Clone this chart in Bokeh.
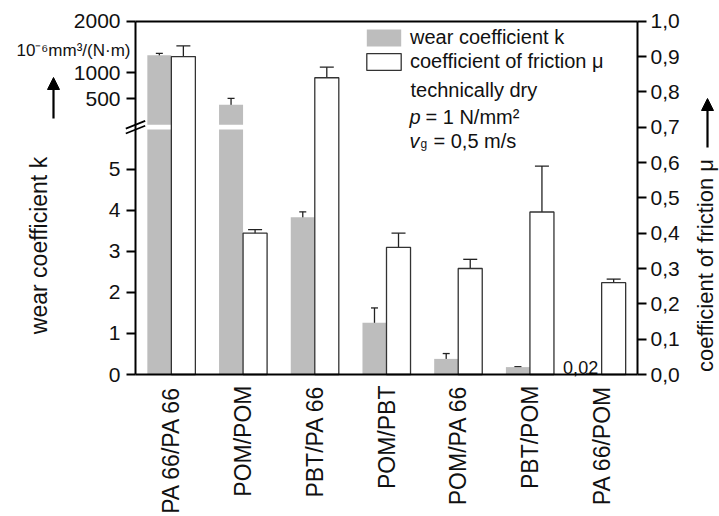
import math
from bokeh.plotting import figure
from bokeh.models import (Range1d, LinearAxis, FixedTicker, Whisker, ColumnDataSource,
                          TeeHead, Label, Arrow, NormalHead, Legend, LegendItem)
from bokeh.embed import file_html
from bokeh.resources import INLINE
from bokeh.core.properties import value

# ---------------- data ----------------
categories = ["PA 66/PA 66", "POM/POM", "PBT/PA 66", "POM/PBT", "POM/PA 66", "PBT/POM", "PA 66/POM"]
wear_k = [1340, 385, 3.83, 1.26, 0.38, 0.18, 0.02]
wear_k_err = [40, 125, 0.13, 0.36, 0.13, 0.01, 0.005]
friction_mu = [0.90, 0.40, 0.84, 0.36, 0.30, 0.46, 0.26]
friction_mu_err = [0.03, 0.01, 0.03, 0.04, 0.026, 0.13, 0.01]
k_ticks_lower = [0, 1, 2, 3, 4, 5]
k_ticks_upper = [500, 1000, 2000]
mu_ticks = [0.0, 0.1, 0.2, 0.3, 0.4, 0.5, 0.6, 0.7, 0.8, 0.9, 1.0]
mu_tick_labels = ["0,0", "0,1", "0,2", "0,3", "0,4", "0,5", "0,6", "0,7", "0,8", "0,9", "1,0"]
annotated_value = 0.02

# ---------------- broken k-axis (mapped onto the mu axis 0..1) ----------------
K_LOW_SCALE = 0.1163      # axis units per k unit, lower segment
K_BREAK = 5.96            # top of lower segment (k)
BREAK_LOW = K_BREAK * K_LOW_SCALE
BREAK_HIGH = 0.707        # bottom of upper segment (axis units)
K_UP_SCALE = 0.0001465    # axis units per k unit, upper segment


def k_to_axis(k):
    if k <= K_BREAK:
        return k * K_LOW_SCALE
    return BREAK_HIGH + k * K_UP_SCALE


FONT = "Liberation Sans"
TXT = "#111111"
GRAY = "#bdbdbd"
EDGE = "#333333"
BW = 0.335

# ---------------- layout: frame = whole canvas, axes at fixed locations ----------------
W, H = 719, 516
PLOT_LEFT, PLOT_RIGHT, PLOT_TOP, PLOT_BOTTOM = 135.0, 637.0, 20.7, 374.0
X0, X1 = -0.5, len(categories) - 0.5
Y0, Y1 = 0.0, 1.0
PX_X = (PLOT_RIGHT - PLOT_LEFT) / (X1 - X0)
PX_Y = (PLOT_BOTTOM - PLOT_TOP) / (Y1 - Y0)
x_range = Range1d(X0 - PLOT_LEFT / PX_X, X1 + (W - PLOT_RIGHT) / PX_X)
y_range = Range1d(Y0 - (H - PLOT_BOTTOM) / PX_Y, Y1 + PLOT_TOP / PX_Y)


def sx(px):
    return px


def sy(py):
    return H - py


p = figure(width=W, height=H, min_border=0, x_range=x_range, y_range=y_range,
           x_axis_type=None, y_axis_type=None, toolbar_location=None,
           output_backend="svg", outline_line_color=None)
p.background_fill_color = "white"
p.border_fill_color = "white"

idx = list(range(len(categories)))
xg = [i - BW / 2 for i in idx]
xw = [i + BW / 2 for i in idx]

# gray bars (wear coefficient), split at the axis break
low_top = [min(k_to_axis(k), BREAK_LOW) for k in wear_k]
gray_low = p.vbar(x=xg, bottom=0, top=low_top, width=BW, fill_color=GRAY, line_color=None)
up_x = [x for x, k in zip(xg, wear_k) if k > K_BREAK]
up_top = [k_to_axis(k) for k in wear_k if k > K_BREAK]
p.vbar(x=up_x, bottom=BREAK_HIGH, top=up_top, width=BW, fill_color=GRAY, line_color=None)

# white bars (friction)
white = p.vbar(x=xw, bottom=0, top=friction_mu, width=BW, fill_color="white",
               line_color=EDGE, line_width=1.3)

# error bars
ksrc = ColumnDataSource(dict(x=xg,
                             lo=[k_to_axis(k - e) for k, e in zip(wear_k, wear_k_err)],
                             hi=[k_to_axis(k + e) for k, e in zip(wear_k, wear_k_err)]))
p.add_layout(Whisker(base="x", lower="lo", upper="hi", source=ksrc, line_color="#222222",
                     line_width=1.3,
                     upper_head=TeeHead(size=7, line_color="#222222", line_width=1.3),
                     lower_head=TeeHead(size=7, line_color="#222222", line_width=1.3)))
msrc = ColumnDataSource(dict(x=xw,
                             lo=[m - e for m, e in zip(friction_mu, friction_mu_err)],
                             hi=[m + e for m, e in zip(friction_mu, friction_mu_err)]))
p.add_layout(Whisker(base="x", lower="lo", upper="hi", source=msrc, line_color="#222222",
                     line_width=1.3,
                     upper_head=TeeHead(size=14, line_color="#222222", line_width=1.3),
                     lower_head=TeeHead(size=14, line_color="#222222", line_width=1.3)))

# value label for the tiny bar
ai = wear_k.index(annotated_value)
p.text(x=[xg[ai]], y=[k_to_axis(annotated_value)],
       text=[f"{annotated_value:.2f}".replace(".", ",")], x_offset=-9, y_offset=-6,
       text_align="center", text_baseline="alphabetic", text_font=value(FONT),
       text_font_size="18px", text_color=TXT)


# ---------------- axes ----------------
def style_axis(ax, out):
    ax.axis_line_width = 2
    ax.axis_line_color = "black"
    ax.major_tick_line_width = 2
    ax.major_tick_line_color = "black"
    ax.major_tick_out = out
    ax.major_tick_in = 0
    ax.minor_tick_out = 0
    ax.minor_tick_in = 0
    ax.major_label_text_font = FONT
    ax.major_label_text_font_size = "21px"
    ax.major_label_text_color = TXT


left_pos = [k_to_axis(v) for v in k_ticks_lower + k_ticks_upper]
left_lab = [str(v) for v in k_ticks_lower + k_ticks_upper]
lax = LinearAxis(fixed_location=X0, bounds=(Y0, Y1), ticker=FixedTicker(ticks=left_pos),
                 major_label_overrides=dict(zip(left_pos, left_lab)))
style_axis(lax, 9)
lax.major_label_standoff = 6
p.add_layout(lax, "left")

rax = LinearAxis(fixed_location=X1, bounds=(Y0, Y1), ticker=FixedTicker(ticks=mu_ticks),
                 major_label_overrides=dict(zip(mu_ticks, mu_tick_labels)))
style_axis(rax, 9)
rax.major_label_standoff = 4
p.add_layout(rax, "right")

bax = LinearAxis(fixed_location=Y0, bounds=(X0, X1), ticker=FixedTicker(ticks=idx),
                 major_label_overrides=dict(zip(idx, categories)))
style_axis(bax, 0)
bax.major_label_text_font_size = "23px"
bax.major_label_orientation = math.pi / 2
bax.major_label_standoff = 11
p.add_layout(bax, "below")

tax = LinearAxis(fixed_location=Y1, bounds=(X0, X1), ticker=FixedTicker(ticks=[]))
style_axis(tax, 0)
p.add_layout(tax, "above")

# break marks on the left axis
for yb in (BREAK_HIGH, BREAK_LOW):
    p.add_layout(Arrow(x_start=X0 - 0.135, y_start=yb - 0.011,
                       x_end=X0 + 0.135, y_end=yb + 0.011,
                       start_units="data", end_units="data", end=None,
                       line_color="black", line_width=1.8))

# ---------------- legend ----------------
legend = Legend(items=[LegendItem(label="wear coefficient k", renderers=[gray_low]),
                       LegendItem(label="coefficient of friction μ", renderers=[white])],
                location=(sx(362), sy(73)), glyph_width=43, glyph_height=21,
                label_text_font=FONT, label_text_font_size="20px", label_text_color=TXT,
                spacing=1, padding=0, margin=0, label_standoff=5,
                border_line_color=None, background_fill_alpha=0)
p.add_layout(legend)


def lab(text, px, py, size="20px", style="normal", angle=0.0, align="left",
        baseline="alphabetic"):
    p.add_layout(Label(x=sx(px), y=sy(py), x_units="screen", y_units="screen", text=text,
                       text_font=FONT, text_font_size=size, text_font_style=style,
                       text_color=TXT, angle=angle, text_align=align,
                       text_baseline=baseline))


lab("technically dry", 410, 89)
lab("p", 409, 116, style="italic")
lab("= 1 N/mm²", 425, 116)
lab("v", 409, 140, style="italic")
lab("g", 420, 143, size="12px")
lab("= 0,5 m/s", 433, 140)

# axis titles, units and arrows
lab("wear coefficient k", 38, 245, size="23px", angle=math.pi / 2, align="center",
    baseline="middle")
lab("coefficient of friction μ", 705, 265, size="22px", angle=math.pi / 2, align="center",
    baseline="middle")
lab("10⁻⁶mm³/(N·m)", 130, 50, size="17px", align="right")

for xa, y0, y1 in ((53, 118, 77), (707, 147, 98)):
    p.add_layout(Arrow(x_start=sx(xa), y_start=sy(y0), x_end=sx(xa), y_end=sy(y1),
                       start_units="screen", end_units="screen",
                       end=NormalHead(size=12, fill_color="black", line_color="black"),
                       line_color="black", line_width=2.2))

open("out.html", "w").write(file_html(p, INLINE))
